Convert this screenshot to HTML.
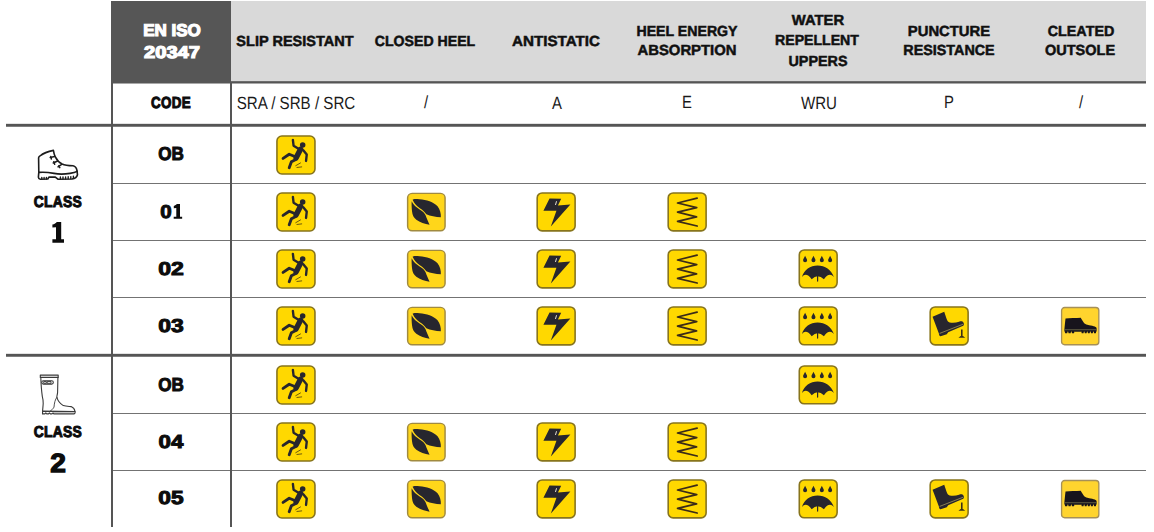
<!DOCTYPE html>
<html><head><meta charset="utf-8"><title>EN ISO 20347</title>
<style>
html,body{margin:0;padding:0;background:#fff;}
body{width:1154px;height:532px;position:relative;overflow:hidden;font-family:"Liberation Sans",sans-serif;color:#111;}
.b{position:absolute;}
.t{position:absolute;white-space:nowrap;transform-origin:50% 50%;text-align:center;}
.h{font-weight:bold;font-size:15px;line-height:20px;color:#101010;-webkit-text-stroke:0.5px #101010;}
.c{font-size:18px;line-height:20px;color:#1a1a1a;}
.k{font-weight:bold;color:#0c0c0c;-webkit-text-stroke:1px #0c0c0c;line-height:22px;}
svg{position:absolute;overflow:visible;}
</style></head><body>
<div class="b" style="left:231px;top:1px;width:915px;height:80px;background:#d9d9d9"></div>
<div class="b" style="left:111px;top:1px;width:120px;height:82px;background:#565656"></div>
<div class="b" style="left:111px;top:83px;width:120px;height:1px;background:#a8a8a8"></div>
<div class="b" style="left:231px;top:81px;width:915px;height:1px;background:#6c6c6c"></div>
<div class="b" style="left:231px;top:82px;width:915px;height:1px;background:#555555"></div>
<div class="b" style="left:231px;top:83px;width:915px;height:1px;background:#a8a8a8"></div>
<div class="b" style="left:6px;top:123px;width:1140px;height:1px;background:#e2e2e2"></div>
<div class="b" style="left:6px;top:124px;width:1140px;height:2px;background:#555555"></div>
<div class="b" style="left:6px;top:126px;width:1140px;height:1px;background:#7e7e7e"></div>
<div class="b" style="left:6px;top:353px;width:1140px;height:1px;background:#e2e2e2"></div>
<div class="b" style="left:6px;top:354px;width:1140px;height:2px;background:#555555"></div>
<div class="b" style="left:6px;top:356px;width:1140px;height:1px;background:#7e7e7e"></div>
<div class="b" style="left:113px;top:183px;width:1033px;height:1px;background:#737373"></div>
<div class="b" style="left:113px;top:240px;width:1033px;height:1px;background:#737373"></div>
<div class="b" style="left:113px;top:297px;width:1033px;height:1px;background:#737373"></div>
<div class="b" style="left:113px;top:413px;width:1033px;height:1px;background:#737373"></div>
<div class="b" style="left:113px;top:470px;width:1033px;height:1px;background:#737373"></div>
<div class="b" style="left:111px;top:83px;width:2px;height:444px;background:#555555"></div>
<div class="b" style="left:230px;top:83px;width:2px;height:444px;background:#555555"></div>
<div class="t k" style="left:21.52px;width:300px;top:30.81px;transform:translateY(-50%) scaleX(0.996) rotate(0.03deg);font-size:17.10px;color:#fff;-webkit-text-stroke:1.2px #fff;">EN ISO</div>
<div class="t k" style="left:22.38px;width:300px;top:52.94px;transform:translateY(-50%) scaleX(1.175) rotate(0.03deg);font-size:17.10px;color:#fff;-webkit-text-stroke:1.2px #fff;">20347</div>
<div class="t h" style="left:144.89px;width:300px;top:40.59px;transform:translateY(-50%) scaleX(0.995) rotate(0.03deg);font-size:14.60px;">SLIP RESISTANT</div>
<div class="t h" style="left:275.19px;width:300px;top:40.57px;transform:translateY(-50%) scaleX(0.968) rotate(0.03deg);font-size:14.60px;">CLOSED HEEL</div>
<div class="t h" style="left:406.30px;width:300px;top:40.52px;transform:translateY(-50%) scaleX(1.041) rotate(0.03deg);font-size:14.60px;">ANTISTATIC</div>
<div class="t h" style="left:536.63px;width:300px;top:30.84px;transform:translateY(-50%) scaleX(0.969) rotate(0.03deg);font-size:14.60px;">HEEL ENERGY</div>
<div class="t h" style="left:537.01px;width:300px;top:50.27px;transform:translateY(-50%) scaleX(1.018) rotate(0.03deg);font-size:14.60px;">ABSORPTION</div>
<div class="t h" style="left:668.32px;width:300px;top:20.12px;transform:translateY(-50%) scaleX(1.013) rotate(0.03deg);font-size:14.60px;">WATER</div>
<div class="t h" style="left:667.17px;width:300px;top:40.12px;transform:translateY(-50%) scaleX(0.967) rotate(0.03deg);font-size:14.60px;">REPELLENT</div>
<div class="t h" style="left:668.29px;width:300px;top:60.80px;transform:translateY(-50%) scaleX(0.983) rotate(0.03deg);font-size:14.60px;">UPPERS</div>
<div class="t h" style="left:798.92px;width:300px;top:30.78px;transform:translateY(-50%) scaleX(1.015) rotate(0.03deg);font-size:14.60px;">PUNCTURE</div>
<div class="t h" style="left:798.89px;width:300px;top:50.49px;transform:translateY(-50%) scaleX(0.982) rotate(0.03deg);font-size:14.60px;">RESISTANCE</div>
<div class="t h" style="left:930.51px;width:300px;top:30.73px;transform:translateY(-50%) scaleX(0.982) rotate(0.03deg);font-size:14.60px;">CLEATED</div>
<div class="t h" style="left:930.01px;width:300px;top:50.33px;transform:translateY(-50%) scaleX(0.995) rotate(0.03deg);font-size:14.60px;">OUTSOLE</div>
<div class="t k" style="left:21.37px;width:300px;top:102.59px;transform:translateY(-50%) scaleX(0.837) rotate(0.03deg);font-size:16.00px;letter-spacing:0.4px;">CODE</div>
<div class="t c" style="left:145.80px;width:300px;top:103.00px;transform:translateY(-50%) scaleX(0.855) rotate(0.03deg);font-size:17.70px;">SRA / SRB / SRC</div>
<div class="t c" style="left:275.98px;width:300px;top:102.22px;transform:translateY(-50%) scaleX(0.840) rotate(0.03deg);font-size:17.70px;">/</div>
<div class="t c" style="left:406.61px;width:300px;top:103.00px;transform:translateY(-50%) scaleX(0.840) rotate(0.03deg);font-size:17.70px;">A</div>
<div class="t c" style="left:537.28px;width:300px;top:102.02px;transform:translateY(-50%) scaleX(0.840) rotate(0.03deg);font-size:17.70px;">E</div>
<div class="t c" style="left:668.55px;width:300px;top:102.69px;transform:translateY(-50%) scaleX(0.853) rotate(0.03deg);font-size:17.70px;">WRU</div>
<div class="t c" style="left:799.18px;width:300px;top:102.22px;transform:translateY(-50%) scaleX(0.840) rotate(0.03deg);font-size:17.70px;">P</div>
<div class="t c" style="left:930.93px;width:300px;top:102.22px;transform:translateY(-50%) scaleX(0.840) rotate(0.03deg);font-size:17.70px;">/</div>
<div class="t k" style="left:21.10px;width:300px;top:154.26px;transform:translateY(-50%) scaleX(0.910) rotate(0.03deg);font-size:18.80px;">OB</div>
<div class="t k" style="left:16.21px;width:300px;top:211.69px;transform:translateY(-50%) scaleX(1.094) rotate(0.03deg);font-size:18.80px;">0</div>
<div class="t k" style="left:21.17px;width:300px;top:268.68px;transform:translateY(-50%) scaleX(1.226) rotate(0.03deg);font-size:18.80px;">02</div>
<div class="t k" style="left:21.32px;width:300px;top:326.26px;transform:translateY(-50%) scaleX(1.219) rotate(0.03deg);font-size:18.80px;">03</div>
<div class="t k" style="left:21.10px;width:300px;top:384.66px;transform:translateY(-50%) scaleX(0.910) rotate(0.03deg);font-size:18.80px;">OB</div>
<div class="t k" style="left:21.29px;width:300px;top:442.09px;transform:translateY(-50%) scaleX(1.184) rotate(0.03deg);font-size:18.80px;">04</div>
<div class="t k" style="left:21.15px;width:300px;top:498.45px;transform:translateY(-50%) scaleX(1.209) rotate(0.03deg);font-size:18.80px;">05</div>
<div class="t k" style="left:-91.91px;width:300px;top:201.52px;transform:translateY(-50%) scaleX(0.877) rotate(0.03deg);font-size:15.80px;letter-spacing:0.3px;">CLASS</div>
<div class="t k" style="left:-91.91px;width:300px;top:431.82px;transform:translateY(-50%) scaleX(0.877) rotate(0.03deg);font-size:15.80px;letter-spacing:0.3px;">CLASS</div>
<div class="t k" style="left:-91.83px;width:300px;top:463.05px;transform:translateY(-50%) scaleX(1.064) rotate(0.03deg);font-size:26.40px;-webkit-text-stroke:1.3px #0c0c0c;">2</div>
<svg style="left:0;top:0" width="1154" height="532" viewBox="0 0 1154 532"><path fill="#0c0c0c" d="M61.2 221.9 L61.2 239.2 L64 239.2 L64 242.8 L52.4 242.8 L52.4 239.2 L56 239.2 L56 227.2 L52.4 227.6 L52.4 224.6 C54.4 224 56 223 56.8 221.9 Z M180 204.1 L180 216.7 L182.15 216.7 L182.15 218.8 L173.7 218.8 L173.7 216.7 L176.3 216.7 L176.3 208.0 L173.8 208.3 L173.8 206.0 C175.2 205.6 176.3 204.9 176.9 204.1 Z"/></svg>
<svg style="left:32px;top:144px" width="52" height="40" viewBox="0 0 52 40">
<g fill="none" stroke="#1c1c1c" stroke-width="1.6" stroke-linejoin="round" stroke-linecap="round">
<path d="M6.8 28.2 L6.6 13.9 C6.8 12.8 7.2 12.6 7.9 12.0 C11 9.5 15 7.6 21.4 6.4 C21.8 9 22.6 11.5 23.3 12.8 C24.6 15.4 27 18.4 30.1 19.9 C33 21.2 37 21.6 41 21.8 C43.2 22.2 44.8 24.6 45.1 27.4"/>
<path d="M6.8 28.4 C12 27.8 17 28.4 22 29.4 C27 30.4 33 30.2 38 29.4 C41 28.9 43.6 28.2 45.1 27.4"/>
<path d="M6.8 28.4 L6.4 33.1 C6.5 34.6 7.2 35.2 8.3 35.3 L15.8 35.0 L16.9 33.1 L23.3 33.1 L25.9 35.2 L40 35 C43 34.6 45 33 45.5 30.8 L45.1 27.4"/>
<path d="M9.8 33.4 L9.8 35 M12.1 33.4 L12.1 35 M14.4 33.4 L14.4 35 M28.4 33 L28.4 34.9 M31 33 L31 34.9 M33.6 33 L33.6 34.9 M36.2 32.8 L36.2 34.8 M38.8 32.6 L38.8 34.6 M41.4 32.2 L41.4 34.2" stroke-width="1.4"/>
<path d="M18.2 13.4 L22.6 12.5 M18.8 12.6 L19.4 15 M21.2 19.0 L25.6 17.0 M21.8 17.8 L22.7 20.2 M26.0 22.8 L29.7 20.4 M26.7 21.8 L27.8 23.7" stroke-width="1.5"/>
</g></svg>
<svg style="left:32px;top:368px" width="52" height="52" viewBox="0 0 52 52">
<g fill="none" stroke="#3a3a3a" stroke-width="1.1" stroke-linejoin="round" stroke-linecap="round">
<rect x="8.3" y="7.1" width="17.9" height="2.3"/>
<path d="M8.8 9.4 C9.0 15 9.4 22 10.3 28.3 C11 31 11.4 33 11.2 35.5 C11 39 10.7 41 10.6 43"/>
<path d="M25.9 9.4 L25.6 24.4 C25.4 27 24.6 28.6 24.9 29.3 C25.6 32 27.4 35 31.3 37.6 C34 38.6 37 38.4 39.1 38.6 C41 39.4 42.6 41 43 43.5"/>
<path d="M24.9 29.3 C23 31.5 22.4 35 22 39.1 C21 41 19.6 42.2 18.6 42.7" stroke-width="0.9"/>
<path d="M10.6 43.1 L43 43.5 C43.4 44.6 43 45.6 42 45.9 L21.8 45.9 L21 44.9 L20 45.9 L18.3 45.9 L17.4 44.9 L16.5 45.9 L14.7 45.9 L13.8 44.9 L12.9 45.9 L10.5 45.9 Z"/>
<path d="M21.8 44.5 L42.8 44.6" stroke-width="0.5" stroke="#888"/>
<rect x="9.8" y="12.7" width="11.5" height="3.4" rx="1.6"/>
<rect x="12.1" y="13.5" width="2.2" height="1.8" stroke-width="0.9"/>
<rect x="15.6" y="13.5" width="3.4" height="1.8" stroke-width="0.9"/>
</g></svg>
<svg style="left:276px;top:135px" width="42" height="42" viewBox="0 0 42 42"><g transform="translate(0.15 0.20) scale(0.9900)"><rect x="0.8" y="0.8" width="38.4" height="38.4" rx="5.0" ry="5.0" fill="#ffd800" stroke="#87741c" stroke-width="1.6"/>
<g fill="none" stroke="#27262e" stroke-linecap="round" stroke-linejoin="round">
<circle cx="26.8" cy="9.8" r="2.8" fill="#27262e" stroke="none"/>
<path d="M16.9 4.7 L17.6 10.6 L22.6 13.6" stroke-width="2.4"/>
<path d="M24.6 14.2 L20.2 22.8" stroke-width="5.5"/>
<path d="M27.4 15.2 L30.9 19.6 L30.2 26.0" stroke-width="2.4"/>
<path d="M20.0 22.0 L13.2 19.2 L7.0 23.4" stroke-width="2.9"/>
<path d="M20.4 24.2 L15.4 26.8 L13.2 32.8" stroke-width="2.9"/>
<path d="M19.8 30.8 L24.6 28.0 M21.0 32.6 L25.8 32.0" stroke-width="0.9" stroke="#5a4a10"/>
</g></g></svg>
<svg style="left:276px;top:192px" width="42" height="42" viewBox="0 0 42 42"><g transform="translate(0.15 0.20) scale(0.9900)"><rect x="0.8" y="0.8" width="38.4" height="38.4" rx="5.0" ry="5.0" fill="#ffd800" stroke="#87741c" stroke-width="1.6"/>
<g fill="none" stroke="#27262e" stroke-linecap="round" stroke-linejoin="round">
<circle cx="26.8" cy="9.8" r="2.8" fill="#27262e" stroke="none"/>
<path d="M16.9 4.7 L17.6 10.6 L22.6 13.6" stroke-width="2.4"/>
<path d="M24.6 14.2 L20.2 22.8" stroke-width="5.5"/>
<path d="M27.4 15.2 L30.9 19.6 L30.2 26.0" stroke-width="2.4"/>
<path d="M20.0 22.0 L13.2 19.2 L7.0 23.4" stroke-width="2.9"/>
<path d="M20.4 24.2 L15.4 26.8 L13.2 32.8" stroke-width="2.9"/>
<path d="M19.8 30.8 L24.6 28.0 M21.0 32.6 L25.8 32.0" stroke-width="0.9" stroke="#5a4a10"/>
</g></g></svg>
<svg style="left:406px;top:192px" width="42" height="42" viewBox="0 0 42 42"><g transform="translate(0.90 0.65) scale(0.9725)"><rect x="0.75" y="0.75" width="38.5" height="38.5" rx="4.6" ry="4.6" fill="#ffd61a" stroke="#a08a40" stroke-width="1.5"/>
<path d="M5.9 7.4 C6.4 6.4 9 6.4 13 6.8 C20 7.3 27.5 9.6 31.5 14 C34 17.2 35.2 21.5 34.9 25.3 C29.6 25.0 24 24 20 22.2 C18 18.6 13.6 16.2 10.4 13.6 C8.4 11.8 6.8 9.6 5.9 7.4 Z" fill="#27262e"/>
<path d="M4.9 8.8 C6.3 11.6 8.3 13.8 10.7 15.6 C13.9 18 17.4 19.6 19.2 23.2 C20.2 26 21.8 29.8 23.3 32.9 C18.5 32.2 13.3 30.6 9.7 27.8 C6.9 25.6 5.7 23.4 5.3 19.4 C4.9 15.8 4.7 11.8 4.9 8.8 Z" fill="#27262e"/></g></svg>
<svg style="left:536px;top:192px" width="42" height="42" viewBox="0 0 42 42"><g transform="translate(0.40 0.15) scale(0.9875)"><rect x="0.8" y="0.8" width="38.4" height="38.4" rx="5.0" ry="5.0" fill="#ffd800" stroke="#87741c" stroke-width="1.6"/>
<path d="M13.3 6.5 L25.1 6.8 L21.8 13.5 L34.4 12.6 L14.6 34.9 L20.3 18.9 L7.1 18.9 Z" fill="#27262e"/>
<path d="M20.4 9.2 L19.3 13" stroke="#e8e4d8" stroke-width="1" fill="none"/></g></svg>
<svg style="left:667px;top:192px" width="42" height="42" viewBox="0 0 42 42"><g transform="translate(0.40 0.15) scale(0.9875)"><rect x="0.8" y="0.8" width="38.4" height="38.4" rx="5.0" ry="5.0" fill="#ffd800" stroke="#87741c" stroke-width="1.6"/>
<path d="M30.1 6.1 L10.3 11.0 L29.7 15.7 L10.3 20.2 L29.5 25.1 L10.3 29.6 L30.1 34.3" fill="none" stroke="#3b2b18" stroke-width="1.75" stroke-linecap="round" stroke-linejoin="round"/></g></svg>
<svg style="left:276px;top:249px" width="42" height="42" viewBox="0 0 42 42"><g transform="translate(0.15 0.20) scale(0.9900)"><rect x="0.8" y="0.8" width="38.4" height="38.4" rx="5.0" ry="5.0" fill="#ffd800" stroke="#87741c" stroke-width="1.6"/>
<g fill="none" stroke="#27262e" stroke-linecap="round" stroke-linejoin="round">
<circle cx="26.8" cy="9.8" r="2.8" fill="#27262e" stroke="none"/>
<path d="M16.9 4.7 L17.6 10.6 L22.6 13.6" stroke-width="2.4"/>
<path d="M24.6 14.2 L20.2 22.8" stroke-width="5.5"/>
<path d="M27.4 15.2 L30.9 19.6 L30.2 26.0" stroke-width="2.4"/>
<path d="M20.0 22.0 L13.2 19.2 L7.0 23.4" stroke-width="2.9"/>
<path d="M20.4 24.2 L15.4 26.8 L13.2 32.8" stroke-width="2.9"/>
<path d="M19.8 30.8 L24.6 28.0 M21.0 32.6 L25.8 32.0" stroke-width="0.9" stroke="#5a4a10"/>
</g></g></svg>
<svg style="left:406px;top:249px" width="42" height="42" viewBox="0 0 42 42"><g transform="translate(0.90 0.65) scale(0.9725)"><rect x="0.75" y="0.75" width="38.5" height="38.5" rx="4.6" ry="4.6" fill="#ffd61a" stroke="#a08a40" stroke-width="1.5"/>
<path d="M5.9 7.4 C6.4 6.4 9 6.4 13 6.8 C20 7.3 27.5 9.6 31.5 14 C34 17.2 35.2 21.5 34.9 25.3 C29.6 25.0 24 24 20 22.2 C18 18.6 13.6 16.2 10.4 13.6 C8.4 11.8 6.8 9.6 5.9 7.4 Z" fill="#27262e"/>
<path d="M4.9 8.8 C6.3 11.6 8.3 13.8 10.7 15.6 C13.9 18 17.4 19.6 19.2 23.2 C20.2 26 21.8 29.8 23.3 32.9 C18.5 32.2 13.3 30.6 9.7 27.8 C6.9 25.6 5.7 23.4 5.3 19.4 C4.9 15.8 4.7 11.8 4.9 8.8 Z" fill="#27262e"/></g></svg>
<svg style="left:536px;top:249px" width="42" height="42" viewBox="0 0 42 42"><g transform="translate(0.40 0.15) scale(0.9875)"><rect x="0.8" y="0.8" width="38.4" height="38.4" rx="5.0" ry="5.0" fill="#ffd800" stroke="#87741c" stroke-width="1.6"/>
<path d="M13.3 6.5 L25.1 6.8 L21.8 13.5 L34.4 12.6 L14.6 34.9 L20.3 18.9 L7.1 18.9 Z" fill="#27262e"/>
<path d="M20.4 9.2 L19.3 13" stroke="#e8e4d8" stroke-width="1" fill="none"/></g></svg>
<svg style="left:667px;top:249px" width="42" height="42" viewBox="0 0 42 42"><g transform="translate(0.40 0.15) scale(0.9875)"><rect x="0.8" y="0.8" width="38.4" height="38.4" rx="5.0" ry="5.0" fill="#ffd800" stroke="#87741c" stroke-width="1.6"/>
<path d="M30.1 6.1 L10.3 11.0 L29.7 15.7 L10.3 20.2 L29.5 25.1 L10.3 29.6 L30.1 34.3" fill="none" stroke="#3b2b18" stroke-width="1.75" stroke-linecap="round" stroke-linejoin="round"/></g></svg>
<svg style="left:798px;top:249px" width="42" height="42" viewBox="0 0 42 42"><g transform="translate(0.50 0.15) scale(0.9850)"><rect x="0.8" y="0.8" width="38.4" height="38.4" rx="5.0" ry="5.0" fill="#ffd800" stroke="#87741c" stroke-width="1.6"/><path d="M6.7 6.6 C7.4 8.6 8.75 9.8 8.75 11.3 A2.05 2.05 0 0 1 4.65 11.3 C4.65 9.8 6.0 8.6 6.7 6.6 Z" fill="#27262e"/><path d="M15.2 6.6 C15.899999999999999 8.6 17.25 9.8 17.25 11.3 A2.05 2.05 0 0 1 13.149999999999999 11.3 C13.149999999999999 9.8 14.5 8.6 15.2 6.6 Z" fill="#27262e"/><path d="M23.7 6.6 C24.4 8.6 25.75 9.8 25.75 11.3 A2.05 2.05 0 0 1 21.65 11.3 C21.65 9.8 23.0 8.6 23.7 6.6 Z" fill="#27262e"/><path d="M32.1 6.6 C32.800000000000004 8.6 34.15 9.8 34.15 11.3 A2.05 2.05 0 0 1 30.05 11.3 C30.05 9.8 31.400000000000002 8.6 32.1 6.6 Z" fill="#27262e"/>
<path d="M3.5 28.3 C5.5 21 12 16.6 19.4 16.6 C26.8 16.6 33.5 21 35.9 28.3 Q31.3 23 25.8 30.5 Q19.4 24.4 13.4 30.5 Q7.7 23 3.5 28.3 Z" fill="#27262e"/>
<path d="M19.4 28.2 L19.4 31.2" stroke="#ffd800" stroke-width="2.4" fill="none"/>
<path d="M19.4 27.4 L19.4 32.4" stroke="#27262e" stroke-width="1.2" fill="none" stroke-linecap="round"/></g></svg>
<svg style="left:276px;top:306px" width="42" height="42" viewBox="0 0 42 42"><g transform="translate(0.15 0.20) scale(0.9900)"><rect x="0.8" y="0.8" width="38.4" height="38.4" rx="5.0" ry="5.0" fill="#ffd800" stroke="#87741c" stroke-width="1.6"/>
<g fill="none" stroke="#27262e" stroke-linecap="round" stroke-linejoin="round">
<circle cx="26.8" cy="9.8" r="2.8" fill="#27262e" stroke="none"/>
<path d="M16.9 4.7 L17.6 10.6 L22.6 13.6" stroke-width="2.4"/>
<path d="M24.6 14.2 L20.2 22.8" stroke-width="5.5"/>
<path d="M27.4 15.2 L30.9 19.6 L30.2 26.0" stroke-width="2.4"/>
<path d="M20.0 22.0 L13.2 19.2 L7.0 23.4" stroke-width="2.9"/>
<path d="M20.4 24.2 L15.4 26.8 L13.2 32.8" stroke-width="2.9"/>
<path d="M19.8 30.8 L24.6 28.0 M21.0 32.6 L25.8 32.0" stroke-width="0.9" stroke="#5a4a10"/>
</g></g></svg>
<svg style="left:406px;top:306px" width="42" height="42" viewBox="0 0 42 42"><g transform="translate(0.90 0.65) scale(0.9725)"><rect x="0.75" y="0.75" width="38.5" height="38.5" rx="4.6" ry="4.6" fill="#ffd61a" stroke="#a08a40" stroke-width="1.5"/>
<path d="M5.9 7.4 C6.4 6.4 9 6.4 13 6.8 C20 7.3 27.5 9.6 31.5 14 C34 17.2 35.2 21.5 34.9 25.3 C29.6 25.0 24 24 20 22.2 C18 18.6 13.6 16.2 10.4 13.6 C8.4 11.8 6.8 9.6 5.9 7.4 Z" fill="#27262e"/>
<path d="M4.9 8.8 C6.3 11.6 8.3 13.8 10.7 15.6 C13.9 18 17.4 19.6 19.2 23.2 C20.2 26 21.8 29.8 23.3 32.9 C18.5 32.2 13.3 30.6 9.7 27.8 C6.9 25.6 5.7 23.4 5.3 19.4 C4.9 15.8 4.7 11.8 4.9 8.8 Z" fill="#27262e"/></g></svg>
<svg style="left:536px;top:306px" width="42" height="42" viewBox="0 0 42 42"><g transform="translate(0.40 0.15) scale(0.9875)"><rect x="0.8" y="0.8" width="38.4" height="38.4" rx="5.0" ry="5.0" fill="#ffd800" stroke="#87741c" stroke-width="1.6"/>
<path d="M13.3 6.5 L25.1 6.8 L21.8 13.5 L34.4 12.6 L14.6 34.9 L20.3 18.9 L7.1 18.9 Z" fill="#27262e"/>
<path d="M20.4 9.2 L19.3 13" stroke="#e8e4d8" stroke-width="1" fill="none"/></g></svg>
<svg style="left:667px;top:306px" width="42" height="42" viewBox="0 0 42 42"><g transform="translate(0.40 0.15) scale(0.9875)"><rect x="0.8" y="0.8" width="38.4" height="38.4" rx="5.0" ry="5.0" fill="#ffd800" stroke="#87741c" stroke-width="1.6"/>
<path d="M30.1 6.1 L10.3 11.0 L29.7 15.7 L10.3 20.2 L29.5 25.1 L10.3 29.6 L30.1 34.3" fill="none" stroke="#3b2b18" stroke-width="1.75" stroke-linecap="round" stroke-linejoin="round"/></g></svg>
<svg style="left:798px;top:306px" width="42" height="42" viewBox="0 0 42 42"><g transform="translate(0.50 0.15) scale(0.9850)"><rect x="0.8" y="0.8" width="38.4" height="38.4" rx="5.0" ry="5.0" fill="#ffd800" stroke="#87741c" stroke-width="1.6"/><path d="M6.7 6.6 C7.4 8.6 8.75 9.8 8.75 11.3 A2.05 2.05 0 0 1 4.65 11.3 C4.65 9.8 6.0 8.6 6.7 6.6 Z" fill="#27262e"/><path d="M15.2 6.6 C15.899999999999999 8.6 17.25 9.8 17.25 11.3 A2.05 2.05 0 0 1 13.149999999999999 11.3 C13.149999999999999 9.8 14.5 8.6 15.2 6.6 Z" fill="#27262e"/><path d="M23.7 6.6 C24.4 8.6 25.75 9.8 25.75 11.3 A2.05 2.05 0 0 1 21.65 11.3 C21.65 9.8 23.0 8.6 23.7 6.6 Z" fill="#27262e"/><path d="M32.1 6.6 C32.800000000000004 8.6 34.15 9.8 34.15 11.3 A2.05 2.05 0 0 1 30.05 11.3 C30.05 9.8 31.400000000000002 8.6 32.1 6.6 Z" fill="#27262e"/>
<path d="M3.5 28.3 C5.5 21 12 16.6 19.4 16.6 C26.8 16.6 33.5 21 35.9 28.3 Q31.3 23 25.8 30.5 Q19.4 24.4 13.4 30.5 Q7.7 23 3.5 28.3 Z" fill="#27262e"/>
<path d="M19.4 28.2 L19.4 31.2" stroke="#ffd800" stroke-width="2.4" fill="none"/>
<path d="M19.4 27.4 L19.4 32.4" stroke="#27262e" stroke-width="1.2" fill="none" stroke-linecap="round"/></g></svg>
<svg style="left:929px;top:306px" width="42" height="42" viewBox="0 0 42 42"><g transform="translate(0.40 0.15) scale(0.9875)"><rect x="0.8" y="0.8" width="38.4" height="38.4" rx="5.0" ry="5.0" fill="#ffd800" stroke="#87741c" stroke-width="1.6"/>
<path d="M3.2 10.7 L15 5.6 L17.3 12.4 C18 14.6 19 16 20.6 16.5 C23 17.2 27 17 30 15.8 C32 15 33.6 15.2 34.6 16.8 C35.4 18.2 35 19.4 34.2 19.9 L19 26.4 L17.6 28.4 L11.4 30.4 C10.4 30.6 9.8 29.6 9.6 27.8 Z" fill="#27262e"/>
<path d="M10.4 27.6 L34.4 18.2" stroke="#cdbb6a" stroke-width="0.6" fill="none"/>
<path d="M32.8 23.7 L32.8 30.6" stroke="#3a3018" stroke-width="1.6" fill="none"/>
<path d="M29.4 32.0 L31.6 30.2 L34 30.2 L36.3 32.0 Z" fill="#3a3018"/></g></svg>
<svg style="left:1060px;top:306px" width="42" height="42" viewBox="0 0 42 42"><g transform="translate(0.90 0.85) scale(0.9650)"><rect x="0.7" y="0.7" width="38.6" height="38.6" rx="3.2" ry="3.2" fill="#ffd42e" stroke="#a69058" stroke-width="1.4"/>
<path d="M4.8 12.0 C9 11.6 16 11.8 20.6 11.4 C21.2 12.6 22.2 14.4 23.6 16.1 C24.8 17.6 26 18.2 27.4 18.6 C30 19.4 32 19.6 34 20 C35.6 20.4 36.6 21 36.8 21.6 C37.2 22.4 37.1 23 37.05 23.6 L3.6 23.6 C3.9 20 4.4 15 4.8 12.0 Z" fill="#17141c"/>
<path d="M3.6 23.3 L37.05 23.3 L37.0 25.4 L36.65 25.6 L36.20 27.3 L34.40 27.3 L33.95 25.6 L33.45 25.6 L33.00 27.3 L31.20 27.3 L30.75 25.6 L30.25 25.6 L29.80 27.3 L28.00 27.3 L27.55 25.6 L27.05 25.6 L26.60 27.3 L24.80 27.3 L24.35 25.6 L23.85 25.6 L23.40 27.3 L21.60 27.3 L21.15 25.6 L20.4 25.7 L14.6 25.7 L14.05 25.6 L13.60 27.3 L11.47 27.3 L11.02 25.6 L10.52 25.6 L10.07 27.3 L7.93 27.3 L7.48 25.6 L6.98 25.6 L6.53 27.3 L4.40 27.3 L3.95 25.6 L3.6 25.2 Z" fill="#17141c"/>
<path d="M3.6 23.75 L37.0 23.75" stroke="#7d8064" stroke-width="0.55" fill="none"/></g></svg>
<svg style="left:276px;top:365px" width="42" height="42" viewBox="0 0 42 42"><g transform="translate(0.15 0.20) scale(0.9900)"><rect x="0.8" y="0.8" width="38.4" height="38.4" rx="5.0" ry="5.0" fill="#ffd800" stroke="#87741c" stroke-width="1.6"/>
<g fill="none" stroke="#27262e" stroke-linecap="round" stroke-linejoin="round">
<circle cx="26.8" cy="9.8" r="2.8" fill="#27262e" stroke="none"/>
<path d="M16.9 4.7 L17.6 10.6 L22.6 13.6" stroke-width="2.4"/>
<path d="M24.6 14.2 L20.2 22.8" stroke-width="5.5"/>
<path d="M27.4 15.2 L30.9 19.6 L30.2 26.0" stroke-width="2.4"/>
<path d="M20.0 22.0 L13.2 19.2 L7.0 23.4" stroke-width="2.9"/>
<path d="M20.4 24.2 L15.4 26.8 L13.2 32.8" stroke-width="2.9"/>
<path d="M19.8 30.8 L24.6 28.0 M21.0 32.6 L25.8 32.0" stroke-width="0.9" stroke="#5a4a10"/>
</g></g></svg>
<svg style="left:798px;top:365px" width="42" height="42" viewBox="0 0 42 42"><g transform="translate(0.50 0.15) scale(0.9850)"><rect x="0.8" y="0.8" width="38.4" height="38.4" rx="5.0" ry="5.0" fill="#ffd800" stroke="#87741c" stroke-width="1.6"/><path d="M6.7 6.6 C7.4 8.6 8.75 9.8 8.75 11.3 A2.05 2.05 0 0 1 4.65 11.3 C4.65 9.8 6.0 8.6 6.7 6.6 Z" fill="#27262e"/><path d="M15.2 6.6 C15.899999999999999 8.6 17.25 9.8 17.25 11.3 A2.05 2.05 0 0 1 13.149999999999999 11.3 C13.149999999999999 9.8 14.5 8.6 15.2 6.6 Z" fill="#27262e"/><path d="M23.7 6.6 C24.4 8.6 25.75 9.8 25.75 11.3 A2.05 2.05 0 0 1 21.65 11.3 C21.65 9.8 23.0 8.6 23.7 6.6 Z" fill="#27262e"/><path d="M32.1 6.6 C32.800000000000004 8.6 34.15 9.8 34.15 11.3 A2.05 2.05 0 0 1 30.05 11.3 C30.05 9.8 31.400000000000002 8.6 32.1 6.6 Z" fill="#27262e"/>
<path d="M3.5 28.3 C5.5 21 12 16.6 19.4 16.6 C26.8 16.6 33.5 21 35.9 28.3 Q31.3 23 25.8 30.5 Q19.4 24.4 13.4 30.5 Q7.7 23 3.5 28.3 Z" fill="#27262e"/>
<path d="M19.4 28.2 L19.4 31.2" stroke="#ffd800" stroke-width="2.4" fill="none"/>
<path d="M19.4 27.4 L19.4 32.4" stroke="#27262e" stroke-width="1.2" fill="none" stroke-linecap="round"/></g></svg>
<svg style="left:276px;top:422px" width="42" height="42" viewBox="0 0 42 42"><g transform="translate(0.15 0.20) scale(0.9900)"><rect x="0.8" y="0.8" width="38.4" height="38.4" rx="5.0" ry="5.0" fill="#ffd800" stroke="#87741c" stroke-width="1.6"/>
<g fill="none" stroke="#27262e" stroke-linecap="round" stroke-linejoin="round">
<circle cx="26.8" cy="9.8" r="2.8" fill="#27262e" stroke="none"/>
<path d="M16.9 4.7 L17.6 10.6 L22.6 13.6" stroke-width="2.4"/>
<path d="M24.6 14.2 L20.2 22.8" stroke-width="5.5"/>
<path d="M27.4 15.2 L30.9 19.6 L30.2 26.0" stroke-width="2.4"/>
<path d="M20.0 22.0 L13.2 19.2 L7.0 23.4" stroke-width="2.9"/>
<path d="M20.4 24.2 L15.4 26.8 L13.2 32.8" stroke-width="2.9"/>
<path d="M19.8 30.8 L24.6 28.0 M21.0 32.6 L25.8 32.0" stroke-width="0.9" stroke="#5a4a10"/>
</g></g></svg>
<svg style="left:406px;top:422px" width="42" height="42" viewBox="0 0 42 42"><g transform="translate(0.90 0.65) scale(0.9725)"><rect x="0.75" y="0.75" width="38.5" height="38.5" rx="4.6" ry="4.6" fill="#ffd61a" stroke="#a08a40" stroke-width="1.5"/>
<path d="M5.9 7.4 C6.4 6.4 9 6.4 13 6.8 C20 7.3 27.5 9.6 31.5 14 C34 17.2 35.2 21.5 34.9 25.3 C29.6 25.0 24 24 20 22.2 C18 18.6 13.6 16.2 10.4 13.6 C8.4 11.8 6.8 9.6 5.9 7.4 Z" fill="#27262e"/>
<path d="M4.9 8.8 C6.3 11.6 8.3 13.8 10.7 15.6 C13.9 18 17.4 19.6 19.2 23.2 C20.2 26 21.8 29.8 23.3 32.9 C18.5 32.2 13.3 30.6 9.7 27.8 C6.9 25.6 5.7 23.4 5.3 19.4 C4.9 15.8 4.7 11.8 4.9 8.8 Z" fill="#27262e"/></g></svg>
<svg style="left:536px;top:422px" width="42" height="42" viewBox="0 0 42 42"><g transform="translate(0.40 0.15) scale(0.9875)"><rect x="0.8" y="0.8" width="38.4" height="38.4" rx="5.0" ry="5.0" fill="#ffd800" stroke="#87741c" stroke-width="1.6"/>
<path d="M13.3 6.5 L25.1 6.8 L21.8 13.5 L34.4 12.6 L14.6 34.9 L20.3 18.9 L7.1 18.9 Z" fill="#27262e"/>
<path d="M20.4 9.2 L19.3 13" stroke="#e8e4d8" stroke-width="1" fill="none"/></g></svg>
<svg style="left:667px;top:422px" width="42" height="42" viewBox="0 0 42 42"><g transform="translate(0.40 0.15) scale(0.9875)"><rect x="0.8" y="0.8" width="38.4" height="38.4" rx="5.0" ry="5.0" fill="#ffd800" stroke="#87741c" stroke-width="1.6"/>
<path d="M30.1 6.1 L10.3 11.0 L29.7 15.7 L10.3 20.2 L29.5 25.1 L10.3 29.6 L30.1 34.3" fill="none" stroke="#3b2b18" stroke-width="1.75" stroke-linecap="round" stroke-linejoin="round"/></g></svg>
<svg style="left:276px;top:479px" width="42" height="42" viewBox="0 0 42 42"><g transform="translate(0.15 0.20) scale(0.9900)"><rect x="0.8" y="0.8" width="38.4" height="38.4" rx="5.0" ry="5.0" fill="#ffd800" stroke="#87741c" stroke-width="1.6"/>
<g fill="none" stroke="#27262e" stroke-linecap="round" stroke-linejoin="round">
<circle cx="26.8" cy="9.8" r="2.8" fill="#27262e" stroke="none"/>
<path d="M16.9 4.7 L17.6 10.6 L22.6 13.6" stroke-width="2.4"/>
<path d="M24.6 14.2 L20.2 22.8" stroke-width="5.5"/>
<path d="M27.4 15.2 L30.9 19.6 L30.2 26.0" stroke-width="2.4"/>
<path d="M20.0 22.0 L13.2 19.2 L7.0 23.4" stroke-width="2.9"/>
<path d="M20.4 24.2 L15.4 26.8 L13.2 32.8" stroke-width="2.9"/>
<path d="M19.8 30.8 L24.6 28.0 M21.0 32.6 L25.8 32.0" stroke-width="0.9" stroke="#5a4a10"/>
</g></g></svg>
<svg style="left:406px;top:479px" width="42" height="42" viewBox="0 0 42 42"><g transform="translate(0.90 0.65) scale(0.9725)"><rect x="0.75" y="0.75" width="38.5" height="38.5" rx="4.6" ry="4.6" fill="#ffd61a" stroke="#a08a40" stroke-width="1.5"/>
<path d="M5.9 7.4 C6.4 6.4 9 6.4 13 6.8 C20 7.3 27.5 9.6 31.5 14 C34 17.2 35.2 21.5 34.9 25.3 C29.6 25.0 24 24 20 22.2 C18 18.6 13.6 16.2 10.4 13.6 C8.4 11.8 6.8 9.6 5.9 7.4 Z" fill="#27262e"/>
<path d="M4.9 8.8 C6.3 11.6 8.3 13.8 10.7 15.6 C13.9 18 17.4 19.6 19.2 23.2 C20.2 26 21.8 29.8 23.3 32.9 C18.5 32.2 13.3 30.6 9.7 27.8 C6.9 25.6 5.7 23.4 5.3 19.4 C4.9 15.8 4.7 11.8 4.9 8.8 Z" fill="#27262e"/></g></svg>
<svg style="left:536px;top:479px" width="42" height="42" viewBox="0 0 42 42"><g transform="translate(0.40 0.15) scale(0.9875)"><rect x="0.8" y="0.8" width="38.4" height="38.4" rx="5.0" ry="5.0" fill="#ffd800" stroke="#87741c" stroke-width="1.6"/>
<path d="M13.3 6.5 L25.1 6.8 L21.8 13.5 L34.4 12.6 L14.6 34.9 L20.3 18.9 L7.1 18.9 Z" fill="#27262e"/>
<path d="M20.4 9.2 L19.3 13" stroke="#e8e4d8" stroke-width="1" fill="none"/></g></svg>
<svg style="left:667px;top:479px" width="42" height="42" viewBox="0 0 42 42"><g transform="translate(0.40 0.15) scale(0.9875)"><rect x="0.8" y="0.8" width="38.4" height="38.4" rx="5.0" ry="5.0" fill="#ffd800" stroke="#87741c" stroke-width="1.6"/>
<path d="M30.1 6.1 L10.3 11.0 L29.7 15.7 L10.3 20.2 L29.5 25.1 L10.3 29.6 L30.1 34.3" fill="none" stroke="#3b2b18" stroke-width="1.75" stroke-linecap="round" stroke-linejoin="round"/></g></svg>
<svg style="left:798px;top:479px" width="42" height="42" viewBox="0 0 42 42"><g transform="translate(0.50 0.15) scale(0.9850)"><rect x="0.8" y="0.8" width="38.4" height="38.4" rx="5.0" ry="5.0" fill="#ffd800" stroke="#87741c" stroke-width="1.6"/><path d="M6.7 6.6 C7.4 8.6 8.75 9.8 8.75 11.3 A2.05 2.05 0 0 1 4.65 11.3 C4.65 9.8 6.0 8.6 6.7 6.6 Z" fill="#27262e"/><path d="M15.2 6.6 C15.899999999999999 8.6 17.25 9.8 17.25 11.3 A2.05 2.05 0 0 1 13.149999999999999 11.3 C13.149999999999999 9.8 14.5 8.6 15.2 6.6 Z" fill="#27262e"/><path d="M23.7 6.6 C24.4 8.6 25.75 9.8 25.75 11.3 A2.05 2.05 0 0 1 21.65 11.3 C21.65 9.8 23.0 8.6 23.7 6.6 Z" fill="#27262e"/><path d="M32.1 6.6 C32.800000000000004 8.6 34.15 9.8 34.15 11.3 A2.05 2.05 0 0 1 30.05 11.3 C30.05 9.8 31.400000000000002 8.6 32.1 6.6 Z" fill="#27262e"/>
<path d="M3.5 28.3 C5.5 21 12 16.6 19.4 16.6 C26.8 16.6 33.5 21 35.9 28.3 Q31.3 23 25.8 30.5 Q19.4 24.4 13.4 30.5 Q7.7 23 3.5 28.3 Z" fill="#27262e"/>
<path d="M19.4 28.2 L19.4 31.2" stroke="#ffd800" stroke-width="2.4" fill="none"/>
<path d="M19.4 27.4 L19.4 32.4" stroke="#27262e" stroke-width="1.2" fill="none" stroke-linecap="round"/></g></svg>
<svg style="left:929px;top:479px" width="42" height="42" viewBox="0 0 42 42"><g transform="translate(0.40 0.15) scale(0.9875)"><rect x="0.8" y="0.8" width="38.4" height="38.4" rx="5.0" ry="5.0" fill="#ffd800" stroke="#87741c" stroke-width="1.6"/>
<path d="M3.2 10.7 L15 5.6 L17.3 12.4 C18 14.6 19 16 20.6 16.5 C23 17.2 27 17 30 15.8 C32 15 33.6 15.2 34.6 16.8 C35.4 18.2 35 19.4 34.2 19.9 L19 26.4 L17.6 28.4 L11.4 30.4 C10.4 30.6 9.8 29.6 9.6 27.8 Z" fill="#27262e"/>
<path d="M10.4 27.6 L34.4 18.2" stroke="#cdbb6a" stroke-width="0.6" fill="none"/>
<path d="M32.8 23.7 L32.8 30.6" stroke="#3a3018" stroke-width="1.6" fill="none"/>
<path d="M29.4 32.0 L31.6 30.2 L34 30.2 L36.3 32.0 Z" fill="#3a3018"/></g></svg>
<svg style="left:1060px;top:479px" width="42" height="42" viewBox="0 0 42 42"><g transform="translate(0.90 0.85) scale(0.9650)"><rect x="0.7" y="0.7" width="38.6" height="38.6" rx="3.2" ry="3.2" fill="#ffd42e" stroke="#a69058" stroke-width="1.4"/>
<path d="M4.8 12.0 C9 11.6 16 11.8 20.6 11.4 C21.2 12.6 22.2 14.4 23.6 16.1 C24.8 17.6 26 18.2 27.4 18.6 C30 19.4 32 19.6 34 20 C35.6 20.4 36.6 21 36.8 21.6 C37.2 22.4 37.1 23 37.05 23.6 L3.6 23.6 C3.9 20 4.4 15 4.8 12.0 Z" fill="#17141c"/>
<path d="M3.6 23.3 L37.05 23.3 L37.0 25.4 L36.65 25.6 L36.20 27.3 L34.40 27.3 L33.95 25.6 L33.45 25.6 L33.00 27.3 L31.20 27.3 L30.75 25.6 L30.25 25.6 L29.80 27.3 L28.00 27.3 L27.55 25.6 L27.05 25.6 L26.60 27.3 L24.80 27.3 L24.35 25.6 L23.85 25.6 L23.40 27.3 L21.60 27.3 L21.15 25.6 L20.4 25.7 L14.6 25.7 L14.05 25.6 L13.60 27.3 L11.47 27.3 L11.02 25.6 L10.52 25.6 L10.07 27.3 L7.93 27.3 L7.48 25.6 L6.98 25.6 L6.53 27.3 L4.40 27.3 L3.95 25.6 L3.6 25.2 Z" fill="#17141c"/>
<path d="M3.6 23.75 L37.0 23.75" stroke="#7d8064" stroke-width="0.55" fill="none"/></g></svg>
</body></html>
